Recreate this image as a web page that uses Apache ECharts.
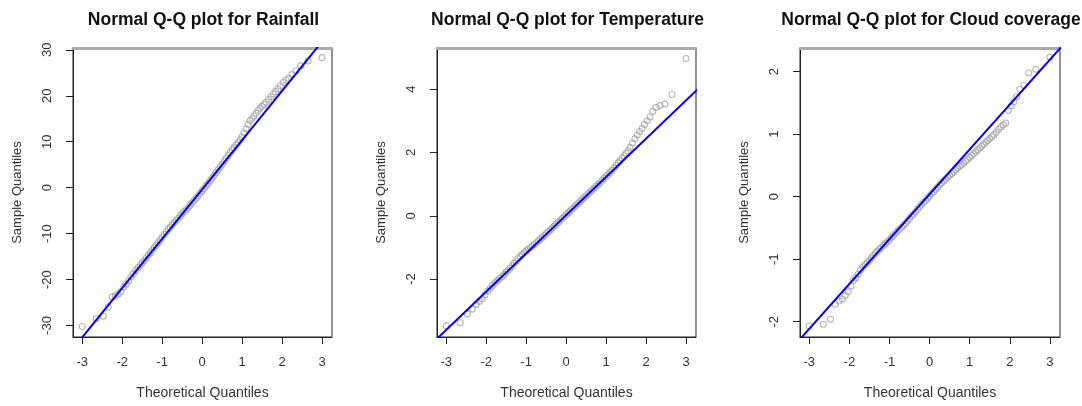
<!DOCTYPE html>
<html>
<head>
<meta charset="utf-8">
<script src="https://cdn.jsdelivr.net/npm/echarts@6/dist/echarts.min.js"></script>
<style>
  html, body { margin: 0; padding: 0; background: #fff; }
  #chart { width: 1082px; height: 406px; }
</style>
</head>
<body>
<div id="chart"></div>
<script>
// theoretical normal quantiles (shared x positions)
var theoretical = [
  -3.0, -2.65, -2.47, -2.35, -2.25, -2.17, -2.1, -2.03, -1.96, -1.9, -1.84, -1.78, -1.72, -1.66, -1.6, -1.55,
  -1.5, -1.45, -1.4, -1.35, -1.3, -1.25, -1.2, -1.15, -1.1, -1.05,
  -1.0, -0.95, -0.9, -0.85, -0.8, -0.75, -0.7, -0.65, -0.6, -0.55,
  -0.5, -0.45, -0.4, -0.35, -0.3, -0.25, -0.2, -0.15, -0.1, -0.05,
  0, 0.05, 0.1, 0.15, 0.2, 0.25, 0.3, 0.35, 0.4, 0.45,
  0.5, 0.55, 0.6, 0.65, 0.7, 0.75, 0.8, 0.85, 0.9, 0.95,
  1.0, 1.05, 1.1, 1.15, 1.2, 1.25, 1.3, 1.35, 1.4, 1.45,
  1.5,
  1.55, 1.6, 1.66, 1.72, 1.78, 1.84, 1.9, 1.96, 2.03, 2.1, 2.17, 2.25, 2.35, 2.47, 2.65, 3.0
]

// sample quantiles
var rainfall = [
  -30.2, -28.5, -28.0, -26.0, -23.8, -23.5, -23.2, -22.6, -21.6, -21.0, -20.3, -19.4, -18.7, -18.0, -17.4, -16.9,
  -16.4, -15.9, -15.3, -14.7, -14.2, -13.7, -13.1, -12.6, -12.0, -11.4,
  -10.8, -10.2, -9.6, -9.0, -8.6, -8.1, -7.6, -7.1, -6.7, -6.2,
  -5.7, -5.2, -4.8, -4.3, -3.8, -3.3, -2.8, -2.3, -1.8, -1.2,
  -0.7, -0.2, 0.4, 0.9, 1.5, 2.1, 2.7, 3.3, 3.9, 4.5,
  5.1, 5.7, 6.4, 7.0, 7.6, 8.2, 8.7, 9.3, 9.8, 10.4,
  11.1, 11.9, 12.8, 13.8, 14.6, 15.1, 15.6, 16.2, 16.8, 17.3,
  17.7,
  18.1, 18.6, 19.2, 19.8, 20.4, 20.9, 21.5, 22.2, 22.9, 23.4, 23.8, 24.6, 25.4, 26.5, 27.6, 28.3
]
var temperature = [
  -3.48, -3.38, -3.1, -2.95, -2.8, -2.7, -2.62, -2.5, -2.38, -2.3, -2.2, -2.12, -2.05, -1.98, -1.92, -1.86,
  -1.78, -1.72, -1.65, -1.58, -1.5, -1.43, -1.36, -1.29, -1.22, -1.16,
  -1.11, -1.06, -1.01, -0.96, -0.91, -0.86, -0.8, -0.75, -0.69, -0.63,
  -0.57, -0.51, -0.45, -0.39, -0.33, -0.27, -0.21, -0.15, -0.09, -0.03,
  0.03, 0.09, 0.15, 0.21, 0.27, 0.33, 0.39, 0.45, 0.51, 0.57,
  0.63, 0.69, 0.75, 0.81, 0.87, 0.93, 0.99, 1.05, 1.12, 1.18,
  1.24, 1.3, 1.37, 1.44, 1.51, 1.59, 1.67, 1.74, 1.82, 1.89,
  1.97,
  2.05, 2.16, 2.3, 2.43, 2.55, 2.66, 2.76, 2.88, 3.0, 3.12, 3.3, 3.42, 3.48, 3.53, 3.83, 4.97
]
var cloud = [
  -2.07, -2.04, -1.96, -1.72, -1.67, -1.64, -1.58, -1.52, -1.43, -1.34, -1.3, -1.24, -1.17, -1.12, -1.08, -1.05,
  -1.02, -0.98, -0.94, -0.9, -0.87, -0.84, -0.81, -0.78, -0.75, -0.72,
  -0.69, -0.65, -0.62, -0.58, -0.55, -0.52, -0.49, -0.46, -0.43, -0.39,
  -0.35, -0.31, -0.28, -0.24, -0.2, -0.16, -0.12, -0.09, -0.06, -0.02,
  0.01, 0.05, 0.08, 0.12, 0.15, 0.19, 0.22, 0.25, 0.28, 0.31,
  0.34, 0.37, 0.4, 0.43, 0.46, 0.49, 0.51, 0.54, 0.57, 0.6,
  0.63, 0.66, 0.69, 0.72, 0.75, 0.78, 0.81, 0.84, 0.87, 0.9,
  0.93,
  0.96, 0.99, 1.03, 1.08, 1.12, 1.15, 1.18, 1.38, 1.45, 1.52, 1.6, 1.72, 1.78, 1.98, 2.04, 2.23
]

// qq reference lines (end points, clipped by the plot box)
var rainLine = [[-3.3, -35.8], [3.3, 35.0]]
var tempLine = [[-3.3, -3.97], [3.3, 4.01]]
var cloudLine = [[-3.3, -2.33], [3.3, 2.41]]

// tick labels
var xTicks = [-3, -2, -1, 0, 1, 2, 3]
var rainTicks = [-30, -20, -10, 0, 10, 20, 30]
var tempTicks = [-2, 0, 2, 4]
var cloudTicks = [-2, -1, 0, 1, 2]

var titles = ['Normal Q-Q plot for Rainfall', 'Normal Q-Q plot for Temperature', 'Normal Q-Q plot for Cloud coverage']

var FONT = "'Liberation Sans', Arial, sans-serif"
var panels = [
  { left: 73, width: 259, ymin: -32.5, ymax: 30.4, ticks: rainTicks, values: rainfall, line: rainLine },
  { left: 437, width: 259, ymin: -3.83, ymax: 5.3, ticks: tempTicks, values: temperature, line: tempLine },
  { left: 800, width: 260, ymin: -2.245, ymax: 2.38, ticks: cloudTicks, values: cloud, line: cloudLine }
]

var option = { animation: false, backgroundColor: '#fff', title: [], grid: [], xAxis: [], yAxis: [], series: [] }

panels.forEach(function (p, i) {
  option.title.push({
    text: titles[i],
    left: p.left + p.width / 2 - 4,
    top: 6,
    textAlign: 'center',
    textStyle: { fontFamily: FONT, fontSize: 17.5, fontWeight: 'bold', color: '#111' }
  })
  option.grid.push({
    left: p.left, width: p.width, top: 48, height: 289,
    show: true, borderColor: '#222', borderWidth: 1, backgroundColor: 'transparent'
  })
  // bottom x axis
  option.xAxis.push({
    type: 'value', gridIndex: i, min: -3.23, max: 3.25,
    name: 'Theoretical Quantiles', nameLocation: 'middle', nameGap: 49,
    nameTextStyle: { fontFamily: FONT, fontSize: 14, color: '#333' },
    axisLine: { show: true, onZero: false, lineStyle: { color: '#222' } },
    axisTick: { show: true, inside: false, length: 7, customValues: xTicks, lineStyle: { color: '#222' } },
    axisLabel: { customValues: xTicks, margin: 19, fontFamily: FONT, fontSize: 13, color: '#333' },
    splitLine: { show: false }
  })
  // grey top edge of the box
  option.xAxis.push({
    type: 'value', gridIndex: i, position: 'top', min: -3.23, max: 3.25,
    axisLine: { show: true, onZero: false, lineStyle: { color: '#aaa', width: 3 } },
    axisTick: { show: false }, axisLabel: { show: false }, splitLine: { show: false }
  })
  option.yAxis.push({
    type: 'value', gridIndex: i, min: p.ymin, max: p.ymax,
    name: 'Sample Quantiles', nameLocation: 'middle', nameGap: 49,
    nameTextStyle: { fontFamily: FONT, fontSize: 13, color: '#333' },
    axisLine: { show: true, onZero: false, lineStyle: { color: '#222' } },
    axisTick: { show: true, inside: false, length: 7, customValues: p.ticks, lineStyle: { color: '#222' } },
    axisLabel: { customValues: p.ticks, rotate: 90, margin: 19, fontFamily: FONT, fontSize: 13, color: '#333' },
    splitLine: { show: false }
  })
  option.series.push({
    type: 'scatter', xAxisIndex: i * 2, yAxisIndex: i,
    symbol: 'circle', symbolSize: 6,
    itemStyle: { color: 'rgba(0,0,0,0)', borderColor: '#a4a4a4', borderWidth: 1.1 },
    data: theoretical.map(function (q, k) { return [q, p.values[k]] }),
    z: 2
  })
  option.series.push({
    type: 'line', xAxisIndex: i * 2, yAxisIndex: i,
    symbol: 'none', clip: true,
    lineStyle: { color: '#0000ff', width: 2 },
    data: p.line,
    z: 3
  })
})

var chart = echarts.init(document.getElementById('chart'))
chart.setOption(option)
</script>
</body>
</html>
